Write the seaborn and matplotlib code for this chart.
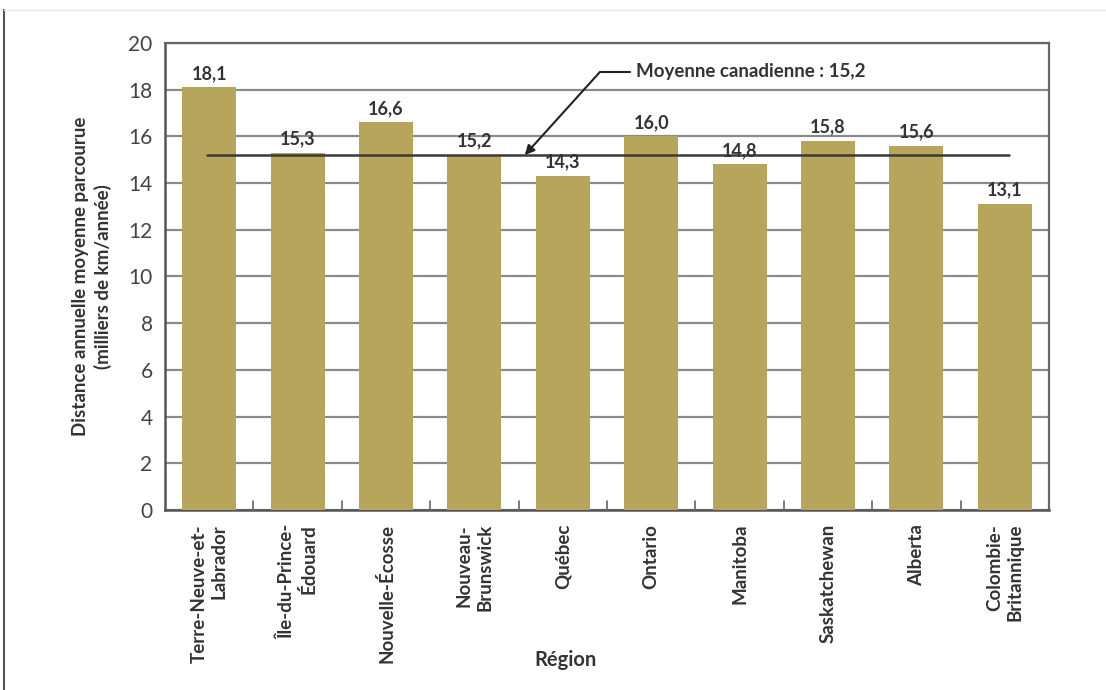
import matplotlib
matplotlib.use("Agg")
import matplotlib.pyplot as plt
from matplotlib.lines import Line2D
import seaborn as sns
import pandas as pd

# Average annual distance driven per light vehicle, by province
regions = [
    "Terre-Neuve-et-\nLabrador",
    "Île-du-Prince-\nÉdouard",
    "Nouvelle-Écosse",
    "Nouveau-\nBrunswick",
    "Québec",
    "Ontario",
    "Manitoba",
    "Saskatchewan",
    "Alberta",
    "Colombie-\nBritannique",
]
distances = [18.1, 15.3, 16.6, 15.2, 14.3, 16.0, 14.8, 15.8, 15.6, 13.1]
canada_avg = 15.2
y_ticks = [0, 2, 4, 6, 8, 10, 12, 14, 16, 18, 20]

bar_color = "#B6A55A"
text_color = "#333333"
grid_color = "#8a8a8a"

sns.set_theme(style="white")
plt.rcParams["font.family"] = ["Lato", "DejaVu Sans"]

df = pd.DataFrame({"region": regions, "distance": distances})

fig = plt.figure(figsize=(11.06, 6.9), dpi=100)
ax = fig.add_axes([165 / 1106, 1 - 510 / 690, (1049 - 165) / 1106, (510 - 43) / 690])

sns.barplot(data=df, x="region", y="distance", color=bar_color,
            width=0.61, saturation=1, ax=ax, zorder=3)
for p in ax.patches:
    p.set_edgecolor("none")

ax.set_ylim(0, 20)
ax.set_xlim(-0.5, len(regions) - 0.5)
ax.set_yticks(y_ticks)
ax.set_yticklabels([str(t) for t in y_ticks], fontsize=15, color="#444444")
ax.yaxis.grid(True, color=grid_color, linewidth=1.6, zorder=0)
ax.set_axisbelow(True)

# Category separators on the x axis
ax.set_xticks(range(len(regions)))
ax.set_xticklabels(regions, rotation=90, fontsize=13.5, fontweight="bold",
                   color=text_color, ha="center", va="top",
                   multialignment="right", linespacing=1.25)
ax.tick_params(axis="x", length=0, pad=10)
ax.tick_params(axis="y", length=0, pad=9)
for k in range(1, len(regions)):
    ax.plot([k - 0.5, k - 0.5], [0, 0.4], color="#666666", linewidth=1.2,
            zorder=4, clip_on=False)

for side in ["left", "bottom"]:
    ax.spines[side].set_color("#555555")
    ax.spines[side].set_linewidth(1.8)
for side in ["top", "right"]:
    ax.spines[side].set_color("#666666")
    ax.spines[side].set_linewidth(1.6)
    ax.spines[side].set_visible(True)

ax.set_xlabel("Région", fontsize=14.5, fontweight="bold", color=text_color)
ax.xaxis.set_label_coords((565 - 165) / (1049 - 165), -(650 - 510) / (510 - 43))
ax.set_ylabel("Distance annuelle moyenne parcourue\n(milliers de km/année)",
              fontsize=13.5, fontweight="bold", color=text_color,
              linespacing=1.3, labelpad=12)

# Value labels above each bar
for i, v in enumerate(distances):
    ax.annotate(f"{v:.1f}".replace(".", ","), xy=(i, v), xytext=(0, 4),
                textcoords="offset points", ha="center", va="bottom",
                fontsize=13, fontweight="bold", color=text_color, zorder=5)

# National average line with its callout
ax.plot([-0.02, 9.05], [canada_avg, canada_avg], color="#3a3a3a",
        linewidth=1.8, zorder=4)
ax.plot([4.42, 4.76], [18.76, 18.76], color="#222222", linewidth=1.5,
        zorder=5, clip_on=False)
ax.annotate("", xy=(3.57, canada_avg), xytext=(4.42, 18.76),
            arrowprops=dict(arrowstyle="-|>", color="#222222", lw=1.5,
                            mutation_scale=14, shrinkA=0, shrinkB=0),
            zorder=5)
ax.text(4.83, 18.76, f"Moyenne canadienne : {canada_avg:.1f}".replace(".", ","),
        ha="left", va="center", fontsize=13.5, fontweight="bold",
        color=text_color, zorder=5,
        bbox=dict(facecolor="white", edgecolor="none", pad=1.5))

# Outer frame
fig.add_artist(Line2D([4 / 1106, 4 / 1106], [0, 1 - 10 / 690],
                      color="#555555", linewidth=1.5))
fig.add_artist(Line2D([4 / 1106, 1], [1 - 10 / 690, 1 - 10 / 690],
                      color="#e6e6e6", linewidth=1.0))

fig.savefig("out.png", dpi=100)
